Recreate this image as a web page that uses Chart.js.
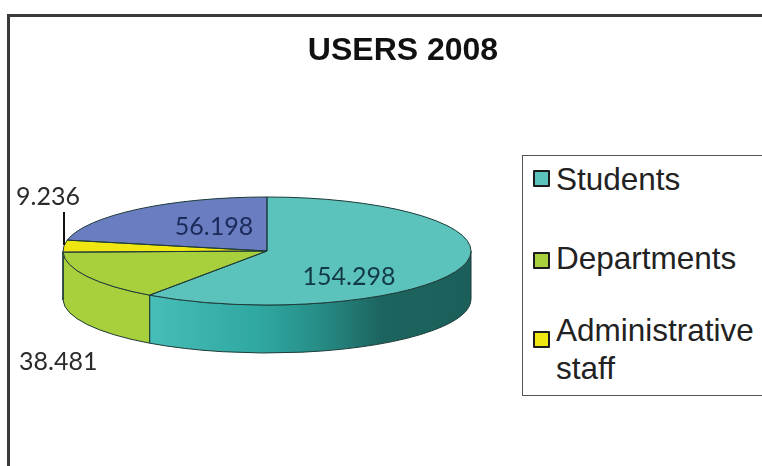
<!DOCTYPE html>
<html>
<head>
<meta charset="utf-8">
<script src="https://cdn.jsdelivr.net/npm/chart.js@4/dist/chart.umd.min.js"></script>
<style>
html,body{margin:0;padding:0;background:#fff;overflow:hidden}
#stage{position:relative;width:762px;height:466px;overflow:hidden}
#frame{position:absolute;left:7px;top:14px;width:770px;height:470px;border-left:3px solid #3a3a3a;border-top:3px solid #3a3a3a;box-sizing:border-box}
canvas{position:absolute;left:0;top:0}
#legend{position:absolute;left:522px;top:155px;width:270px;height:241px;border:1.5px solid #555;box-sizing:border-box;background:#fff;font-family:"Liberation Sans",Arial,sans-serif;font-size:31.5px;line-height:38px;color:#222}
.row{position:absolute;left:33px;white-space:nowrap}
.sw{position:absolute;left:-23.5px;width:13px;height:13px;border:2px solid #1c1c1c;border-radius:1px}
</style>
</head>
<body>
<div id="stage">
<div id="frame"></div>
<canvas id="c" width="762" height="466"></canvas>
<div id="legend"></div>
</div>
<script>
const titleText = "USERS 2008";
const categories = ["Students", "Departments", "Administrative staff", "Faculty"];
const legendLines = [["Students"], ["Departments"], ["Administrative", "staff"]];
const values = [154298, 38481, 9236, 56198];
const topColors = ["#5cc3bc", "#a8cf3c", "#f0e612", "#6a7dc0"];
const wallColors = ["#3fb8b1", "#a8cf3c", "#d8cf10", "#56679f"];
const labelColors = ["#123a44", "#2b2b2b", "#2b2b2b", "#1c2a5a"];

const CY = 251, RY = 54, DEPTH = 48, OUTLINE = "#1d3b38";
const labelAnchors = [
  {x: 349, y: 277, align: "center"},
  {x: 19, y: 362, align: "left"},
  {x: 16, y: 197, align: "left"},
  {x: 214, y: 227, align: "center"}
];
const fmt = v => String(v).replace(/\B(?=(\d{3})+$)/g, ".");

function geom(chart) {
  const arcs = chart.getDatasetMeta(0).data;
  const a0 = arcs[0];
  return {arcs, cx: a0.x, cy: a0.y, rx: a0.outerRadius};
}

const pie3d = {
  id: "pie3d",
  afterLayout(chart) {
    const t = chart.titleBlock;
    if (t) { t.left = 303; t.right = 503; }
  },
  beforeDatasetsDraw(chart) {
    const {ctx} = chart;
    const {arcs, cx, rx} = geom(chart);
    arcs.forEach((arc, i) => {
      const a = Math.max(arc.startAngle, 0), b = Math.min(arc.endAngle, Math.PI);
      if (a >= b) return;
      ctx.save();
      ctx.beginPath();
      ctx.ellipse(cx, CY, rx, RY, 0, a, b);
      ctx.ellipse(cx, CY + DEPTH, rx, RY, 0, b, a, true);
      ctx.closePath();
      let fill = wallColors[i];
      if (i === 0) {
        const g = ctx.createLinearGradient(cx - rx, 0, cx + rx, 0);
        g.addColorStop(0.2, "#48bfb8");
        g.addColorStop(0.48, "#2fa8a1");
        g.addColorStop(0.64, "#268a84");
        g.addColorStop(0.78, "#1c645f");
        g.addColorStop(1, "#1b5f5a");
        fill = g;
      }
      ctx.fillStyle = fill;
      ctx.fill();
      ctx.strokeStyle = OUTLINE;
      ctx.lineWidth = 1;
      ctx.stroke();
      ctx.restore();
    });
  },
  beforeDatasetDraw(chart) {
    const {ctx} = chart;
    const {cx, cy, rx} = geom(chart);
    ctx.save();
    ctx.translate(cx, CY);
    ctx.scale(1, RY / rx);
    ctx.translate(-cx, -cy);
  },
  afterDatasetDraw(chart) {
    const {ctx} = chart;
    ctx.restore();
    const {arcs, cx, rx} = geom(chart);
    ctx.save();
    ctx.strokeStyle = OUTLINE;
    ctx.lineWidth = 1;
    arcs.forEach(arc => {
      ctx.beginPath();
      ctx.moveTo(cx, CY);
      ctx.ellipse(cx, CY, rx, RY, 0, arc.startAngle, arc.endAngle);
      ctx.closePath();
      ctx.stroke();
    });
    // leader line of the small slice
    ctx.strokeStyle = "#111";
    ctx.lineWidth = 2;
    ctx.beginPath();
    ctx.moveTo(64, 212);
    ctx.lineTo(64, 245);
    ctx.stroke();
    // value labels
    ctx.font = '25px Lato, "Open Sans", sans-serif';
    ctx.textBaseline = "middle";
    values.forEach((v, i) => {
      const p = labelAnchors[i];
      ctx.textAlign = p.align;
      ctx.fillStyle = labelColors[i];
      ctx.fillText(fmt(v), p.x, p.y);
    });
    ctx.restore();
  }
};

new Chart(document.getElementById("c"), {
  type: "pie",
  data: {
    labels: categories,
    datasets: [{data: values, backgroundColor: topColors, borderWidth: 0}]
  },
  options: {
    responsive: false,
    animation: false,
    layout: {padding: {left: 63, right: 291, top: 0, bottom: 11}},
    plugins: {
      legend: {display: false},
      tooltip: {enabled: false},
      title: {
        display: true,
        text: titleText,
        color: "#111",
        font: {family: '"Liberation Sans", Arial, sans-serif', size: 32, weight: "bold", lineHeight: 1.2},
        padding: {top: 32, bottom: -23.4}
      }
    }
  },
  plugins: [pie3d]
});

const legendEl = document.getElementById("legend");
const rowTops = [3.5, 82.5, 154.5];
const swatchTops = [10, 13, 20];
legendLines.forEach((lines, i) => {
  const row = document.createElement("div");
  row.className = "row";
  row.style.top = rowTops[i] + "px";
  const sw = document.createElement("span");
  sw.className = "sw";
  sw.style.background = topColors[i];
  sw.style.top = swatchTops[i] + "px";
  row.appendChild(sw);
  lines.forEach((l, k) => {
    if (k) row.appendChild(document.createElement("br"));
    row.appendChild(document.createTextNode(l));
  });
  legendEl.appendChild(row);
});
</script>
</body>
</html>
